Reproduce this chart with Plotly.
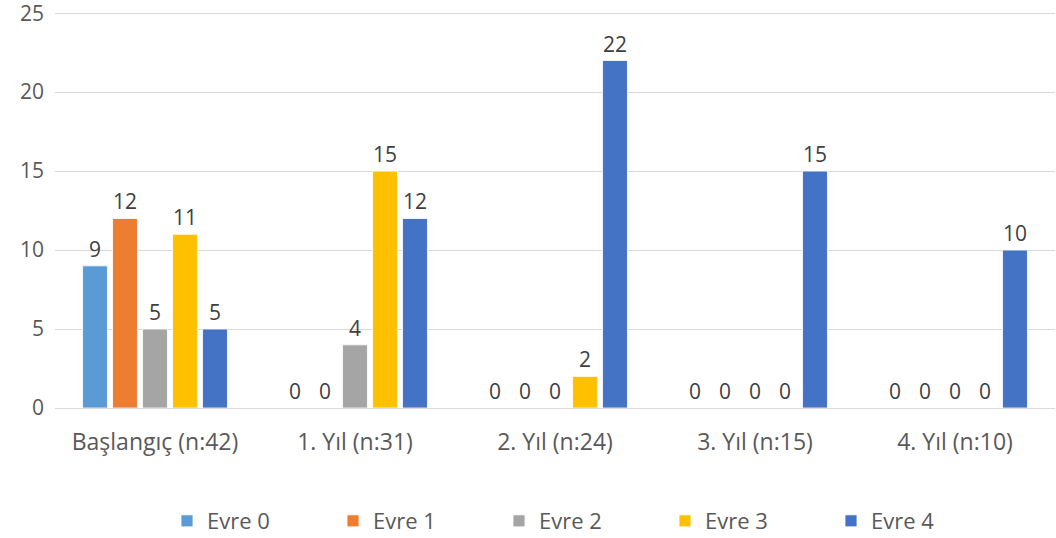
import plotly.graph_objects as go

categories = ["Başlangıç (n:42)", "1. Yıl (n:31)", "2. Yıl (n:24)", "3. Yıl (n:15)", "4. Yıl (n:10)"]
series_names = ["Evre 0", "Evre 1", "Evre 2", "Evre 3", "Evre 4"]
evre0 = [9, 0, 0, 0, 0]
evre1 = [12, 0, 0, 0, 0]
evre2 = [5, 4, 0, 0, 0]
evre3 = [11, 15, 2, 0, 0]
evre4 = [5, 12, 22, 15, 10]
colors = ["#5B9BD5", "#ED7D31", "#A5A5A5", "#FFC000", "#4472C4"]

values = [evre0, evre1, evre2, evre3, evre4]
font_family = "'Open Sans', sans-serif"

fig = go.Figure()
for name, vals, col in zip(series_names, values, colors):
    fig.add_trace(go.Bar(
        x=categories, y=vals, name=name,
        marker=dict(color=col, line=dict(color="white", width=0.8)),
        text=[str(v) for v in vals], textposition="outside",
        textfont=dict(size=21, color="#404040", family=font_family),
        cliponaxis=False,
    ))

fig.update_layout(
    width=1056, height=538,
    margin=dict(l=55, r=1, t=10, b=130, autoexpand=False),
    paper_bgcolor="white", plot_bgcolor="white",
    barmode="group", bargap=0.25, bargroupgap=0.17,
    font=dict(family=font_family, size=21, color="#595959"),
    xaxis=dict(showgrid=False, showline=False, ticks="", tickfont=dict(size=23, color="#595959"),
               ticklabelstandoff=18),
    yaxis=dict(range=[0, 25.2], tickvals=[0, 5, 10, 15, 20, 25], showgrid=True,
               gridcolor="#D9D9D9", gridwidth=1,
               zeroline=True, zerolinecolor="#D9D9D9", zerolinewidth=1,
               ticklabeloverflow="allow",
               tickfont=dict(size=21, color="#595959"), ticklabelstandoff=10),
    legend=dict(orientation="h", x=0.112, xanchor="left", y=-0.284, yanchor="middle",
                font=dict(size=22, color="#595959"), entrywidth=121, entrywidthmode="pixels"),
)

fig.write_html("out.html")
